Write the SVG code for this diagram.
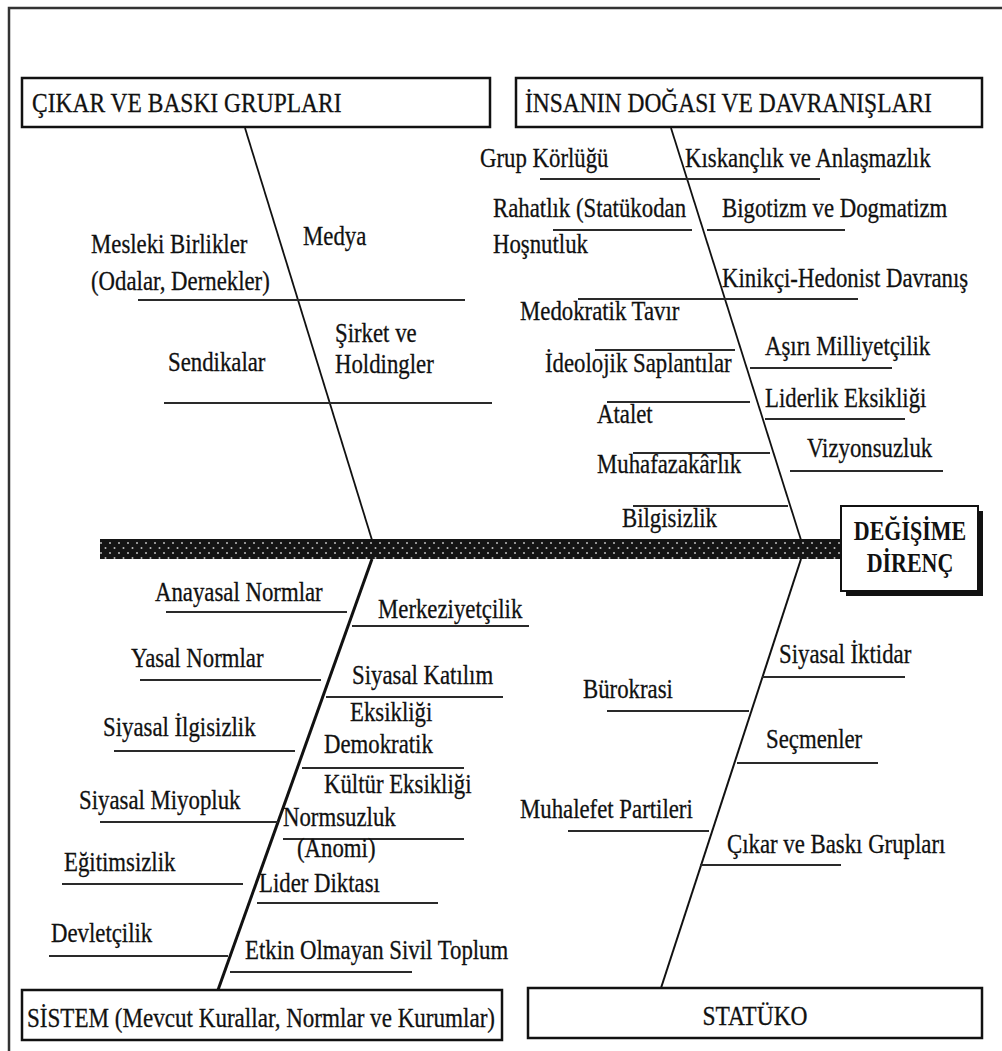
<svg xmlns="http://www.w3.org/2000/svg" width="1002" height="1051" viewBox="0 0 1002 1051">
<style>
.lbl{font-family:"Liberation Serif","Times New Roman",serif;font-size:22.8px;fill:#111;stroke:#111;stroke-width:0.25}
.ttl{font-family:"Liberation Serif","Times New Roman",serif;font-size:23.5px;fill:#111;stroke:#111;stroke-width:0.25}
.head{font-family:"Liberation Serif","Times New Roman",serif;font-size:22px;font-weight:bold;fill:#111;text-anchor:middle}
.rib{stroke:#2a2a2a;stroke-width:2;fill:none}
.bone{stroke:#111;stroke-width:1.8;fill:none}
.box{fill:#fff;stroke:#111;stroke-width:2.5}
.frame{stroke:#333;stroke-width:2.5;fill:none}
</style>
<defs>
<pattern id="dots" width="9" height="10" patternUnits="userSpaceOnUse">
<rect width="9" height="10" fill="#141414"/>
<circle cx="2" cy="3" r="1" fill="#bbb"/>
<circle cx="6.5" cy="8" r="1" fill="#bbb"/>
</pattern>
</defs>
<rect width="1002" height="1051" fill="#fff"/>
<path class="frame" d="M9,1051 V8 H1002"/>

<g id="connectors">
<rect id="spine" x="100" y="539" width="741" height="20" fill="url(#dots)"/>
<line class="bone" x1="245" y1="128" x2="372" y2="540"/>
<line class="bone" x1="671" y1="128" x2="801" y2="540"/>
<line class="bone" x1="372" y1="559" x2="218" y2="990" style="stroke-width:3"/>
<line class="bone" x1="801" y1="559" x2="661" y2="988" style="stroke-width:2"/>
<line class="rib" x1="138" y1="300" x2="465" y2="300"/>
<line class="rib" x1="164" y1="403" x2="492" y2="403"/>
<line class="rib" x1="540" y1="179" x2="820" y2="179"/>
<line class="rib" x1="553" y1="230" x2="692" y2="230"/>
<line class="rib" x1="707" y1="230" x2="845" y2="230"/>
<line class="rib" x1="578" y1="299" x2="858" y2="299"/>
<line class="rib" x1="595" y1="350" x2="735" y2="350"/>
<line class="rib" x1="750" y1="368" x2="892" y2="368"/>
<line class="rib" x1="607" y1="402" x2="750" y2="402"/>
<line class="rib" x1="765" y1="419" x2="905" y2="419"/>
<line class="rib" x1="633" y1="453" x2="770" y2="453"/>
<line class="rib" x1="790" y1="471" x2="943" y2="471"/>
<line class="rib" x1="633" y1="506" x2="788" y2="506"/>
<line class="rib" x1="166" y1="612" x2="347" y2="612"/>
<line class="rib" x1="352" y1="626" x2="529" y2="626"/>
<line class="rib" x1="140" y1="680" x2="321" y2="680"/>
<line class="rib" x1="326" y1="697" x2="503" y2="697"/>
<line class="rib" x1="114" y1="751" x2="295" y2="751"/>
<line class="rib" x1="302" y1="768" x2="464" y2="768"/>
<line class="rib" x1="100" y1="822" x2="278" y2="822"/>
<line class="rib" x1="283" y1="839" x2="464" y2="839"/>
<line class="rib" x1="62" y1="884" x2="243" y2="884"/>
<line class="rib" x1="257" y1="903" x2="438" y2="903"/>
<line class="rib" x1="49" y1="956" x2="228" y2="956"/>
<line class="rib" x1="230" y1="972" x2="412" y2="972"/>
<line class="rib" x1="762" y1="677" x2="905" y2="677"/>
<line class="rib" x1="607" y1="711" x2="749" y2="711"/>
<line class="rib" x1="737" y1="763" x2="878" y2="763"/>
<line class="rib" x1="568" y1="831" x2="709" y2="831"/>
<line class="rib" x1="700" y1="865" x2="841" y2="865"/>
</g>

<g id="cat-cikar">
<rect class="box" x="22" y="78" width="468" height="49"/>
<text class="ttl" transform="translate(32 112) scale(1 1.15)">ÇIKAR VE BASKI GRUPLARI</text>
</g>
<g id="cat-insan">
<rect class="box" x="516" y="78" width="466" height="49"/>
<text class="ttl" transform="translate(525 112) scale(1 1.15)">İNSANIN DOĞASI VE DAVRANIŞLARI</text>
</g>
<g id="cat-sistem">
<rect class="box" x="22" y="990" width="480" height="50"/>
<text class="ttl" textLength="468" lengthAdjust="spacingAndGlyphs" transform="translate(27 1027) scale(1 1.15)">SİSTEM (Mevcut Kurallar, Normlar ve Kurumlar)</text>
</g>
<g id="cat-statuko">
<rect class="box" x="528" y="988" width="454" height="50"/>
<text class="ttl" text-anchor="middle" transform="translate(755 1025) scale(1 1.15)">STATÜKO</text>
</g>
<g id="head">
<rect x="846" y="511" width="137" height="85" fill="#111"/>
<rect class="box" x="841" y="506" width="137" height="85" style="stroke-width:2"/>
<text class="head" transform="translate(910 540) scale(1 1.2)">DEĞİŞİME</text>
<text class="head" transform="translate(910 572) scale(1 1.2)">DİRENÇ</text>
</g>

<g id="c-mesleki"><text class="lbl" transform="translate(91 253) scale(1 1.2)">Mesleki Birlikler</text><text class="lbl" transform="translate(91 290) scale(1 1.2)">(Odalar, Dernekler)</text></g>
<g id="c-medya"><text class="lbl" transform="translate(303 245) scale(1 1.2)">Medya</text></g>
<g id="c-sirket"><text class="lbl" transform="translate(335 342) scale(1 1.2)">Şirket ve</text><text class="lbl" transform="translate(335 373) scale(1 1.2)">Holdingler</text></g>
<g id="c-sendika"><text class="lbl" transform="translate(168 371) scale(1 1.2)">Sendikalar</text></g>

<g id="c-grup"><text class="lbl" transform="translate(480 167) scale(1 1.2)">Grup Körlüğü</text></g>
<g id="c-kiskanc"><text class="lbl" transform="translate(685 167) scale(1 1.2)">Kıskançlık ve Anlaşmazlık</text></g>
<g id="c-rahat"><text class="lbl" transform="translate(493 217) scale(1 1.2)">Rahatlık (Statükodan</text><text class="lbl" transform="translate(493 253) scale(1 1.2)">Hoşnutluk</text></g>
<g id="c-bigot"><text class="lbl" transform="translate(722 217) scale(1 1.2)">Bigotizm ve Dogmatizm</text></g>
<g id="c-kinik"><text class="lbl" transform="translate(722 287) scale(1 1.2)">Kinikçi-Hedonist Davranış</text></g>
<g id="c-medok"><text class="lbl" transform="translate(520 320) scale(1 1.2)">Medokratik Tavır</text></g>
<g id="c-ideo"><text class="lbl" transform="translate(545 372) scale(1 1.2)">İdeolojik Saplantılar</text></g>
<g id="c-asiri"><text class="lbl" transform="translate(765 355) scale(1 1.2)">Aşırı Milliyetçilik</text></g>
<g id="c-atalet"><text class="lbl" transform="translate(597 423) scale(1 1.2)">Atalet</text></g>
<g id="c-lider"><text class="lbl" transform="translate(765 407) scale(1 1.2)">Liderlik Eksikliği</text></g>
<g id="c-vizyon"><text class="lbl" transform="translate(807 457) scale(1 1.2)">Vizyonsuzluk</text></g>
<g id="c-muhafaz"><text class="lbl" transform="translate(597 473) scale(1 1.2)">Muhafazakârlık</text></g>
<g id="c-bilgi"><text class="lbl" transform="translate(622 527) scale(1 1.2)">Bilgisizlik</text></g>

<g id="c-anayasa"><text class="lbl" transform="translate(155 601) scale(1 1.2)">Anayasal Normlar</text></g>
<g id="c-merkez"><text class="lbl" transform="translate(378 618) scale(1 1.2)">Merkeziyetçilik</text></g>
<g id="c-yasal"><text class="lbl" transform="translate(131 667) scale(1 1.2)">Yasal Normlar</text></g>
<g id="c-katilim"><text class="lbl" transform="translate(352 684) scale(1 1.2)">Siyasal Katılım</text><text class="lbl" transform="translate(350 721) scale(1 1.2)">Eksikliği</text></g>
<g id="c-ilgisiz"><text class="lbl" transform="translate(103 736) scale(1 1.2)">Siyasal İlgisizlik</text></g>
<g id="c-demok"><text class="lbl" transform="translate(324 753) scale(1 1.2)">Demokratik</text><text class="lbl" transform="translate(324 793) scale(1 1.2)">Kültür Eksikliği</text></g>
<g id="c-miyop"><text class="lbl" transform="translate(79 809) scale(1 1.2)">Siyasal Miyopluk</text></g>
<g id="c-norm"><text class="lbl" transform="translate(283 826) scale(1 1.2)">Normsuzluk</text><text class="lbl" transform="translate(297 857) scale(1 1.2)">(Anomi)</text></g>
<g id="c-egitim"><text class="lbl" transform="translate(64 871) scale(1 1.2)">Eğitimsizlik</text></g>
<g id="c-diktasi"><text class="lbl" transform="translate(259 892) scale(1 1.2)">Lider Diktası</text></g>
<g id="c-devlet"><text class="lbl" transform="translate(51 942) scale(1 1.2)">Devletçilik</text></g>
<g id="c-sivil"><text class="lbl" transform="translate(245 959) scale(1 1.2)">Etkin Olmayan Sivil Toplum</text></g>

<g id="c-iktidar"><text class="lbl" transform="translate(779 663) scale(1 1.2)">Siyasal İktidar</text></g>
<g id="c-buro"><text class="lbl" transform="translate(583 698) scale(1 1.2)">Bürokrasi</text></g>
<g id="c-secmen"><text class="lbl" transform="translate(766 748) scale(1 1.2)">Seçmenler</text></g>
<g id="c-muhalefet"><text class="lbl" transform="translate(520 818) scale(1 1.2)">Muhalefet Partileri</text></g>
<g id="c-cikar2"><text class="lbl" transform="translate(727 853) scale(1 1.2)">Çıkar ve Baskı Grupları</text></g>
</svg>
